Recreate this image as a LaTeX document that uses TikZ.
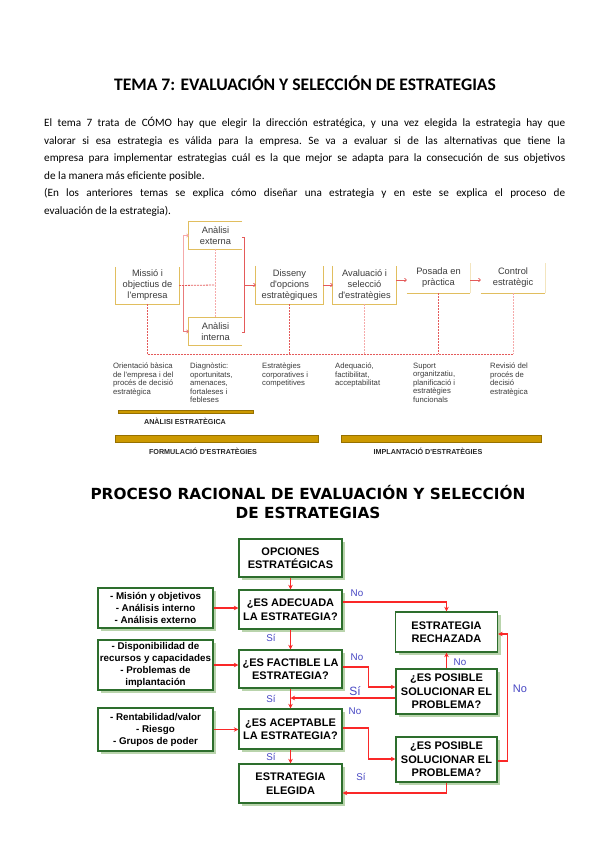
\documentclass[tikz,border=0pt]{standalone}
\usepackage{fontspec}
\setmainfont{Carlito}
\newfontfamily\arialf{Liberation Sans}
\newfontfamily\verdf{DejaVu Sans}
\usetikzlibrary{arrows.meta,shadows}
\definecolor{gbord}{RGB}{225,190,95}
\definecolor{barfill}{RGB}{204,153,0}
\definecolor{barline}{RGB}{150,112,0}
\definecolor{lred}{RGB}{228,90,90}
\definecolor{pred}{RGB}{245,170,170}
\definecolor{fred}{RGB}{250,40,40}
\definecolor{fgreen}{RGB}{45,110,45}
\definecolor{fshadow}{RGB}{185,212,172}
\definecolor{lblue}{RGB}{70,70,195}
\definecolor{tgray}{RGB}{60,60,60}
\tikzset{
  tbox/.style={font=\arialf\fontsize{9.3}{11}\selectfont, text=tgray, align=center, inner sep=0pt},
  gline/.style={draw=gbord, line width=1pt},
  lowtxt/.style={anchor=north west, font=\arialf\fontsize{7.7}{8.4}\selectfont, text=tgray, align=left, inner sep=0pt},
  blab/.style={font=\arialf\bfseries\fontsize{7.2}{8}\selectfont, text=black!85, inner sep=0pt},
  dsh/.style={draw=lred, dashed, dash pattern=on 2pt off 1pt, line width=0.8pt},
  dshl/.style={draw=pred, dashed, dash pattern=on 2pt off 1pt, line width=0.8pt},
  tarr/.style={draw=lred, line width=0.8pt, -{To[length=2.5pt,width=4pt]}},
  fbox/.style={draw=fgreen, line width=1.3pt, fill=white, drop shadow={shadow xshift=3pt, shadow yshift=-3pt, fill=fshadow, opacity=1}, font=\arialf\bfseries\fontsize{11}{13.5}\selectfont, align=center, inner sep=0pt},
  lbox/.style={fbox, font=\arialf\bfseries\fontsize{9.8}{12}\selectfont},
  farr/.style={draw=fred, line width=1.2pt, -{Stealth[length=4.5pt,width=4.5pt]}},
  flab/.style={font=\arialf\fontsize{9.8}{11}\selectfont, text=lblue, inner sep=0pt}
}
\begin{document}
\begin{tikzpicture}[x=1pt,y=-1pt]
\useasboundingbox[fill=white] (0,0) rectangle (600,848);

% ---------- Title and paragraph ----------
\node[font=\bfseries\fontsize{17.6}{20}\selectfont] (t1) at (305,83) {TEMA 7: EVALUACIÓN Y SELECCIÓN DE ESTRATEGIAS};
\node[anchor=north west, inner sep=0pt, text width=521pt, align=justify, font=\frenchspacing\fontsize{11.2}{17.6}\selectfont] (par) at (44,117)
{El tema 7 trata de CÓMO hay que elegir la dirección estratégica, y una vez elegida la estrategia hay que\linebreak
valorar si esa estrategia es válida para la empresa. Se va a evaluar si de las alternativas que tiene la\linebreak
empresa para implementar estrategias cuál es la que mejor se adapta para la consecución de sus objetivos\linebreak
de la manera más eficiente posible.\par
(En los anteriores temas se explica cómo diseñar una estrategia y en este se explica el proceso de\linebreak
evaluación de la estrategia).};

% ---------- Top diagram ----------
\node[tbox, minimum width=63pt, minimum height=37pt] (mis) at (147.5,285.5) {Missió i\\objectius de\\l'empresa};
\node[tbox, minimum width=53pt, minimum height=27pt] (ext) at (215.5,235.5) {Anàlisi\\externa};
\node[tbox, minimum width=53pt, minimum height=27pt] (int) at (215.5,331.5) {Anàlisi\\interna};
\node[tbox, minimum width=67pt, minimum height=38pt] (dis) at (289.5,285) {Disseny\\d'opcions\\estratègiques};
\node[tbox, minimum width=63pt, minimum height=38pt] (ava) at (364.5,285) {Avaluació i\\selecció\\d'estratègies};
\node[tbox, minimum width=63pt, minimum height=30pt] (pos) at (438.5,278) {Posada en\\pràctica};
\node[tbox, minimum width=64pt, minimum height=30pt] (con) at (513,278) {Control\\estratègic};

\draw[gline] (mis.north west) -- (mis.south west) -- (mis.south east) -- (mis.north east);
\draw[gline] (dis.north west) -- (dis.south west) -- (dis.south east) -- (dis.north east);
\draw[gline] (ava.north west) -- (ava.south west) -- (ava.south east) -- (ava.north east);
\draw[gline] (ext.north east) -- (ext.north west) -- (ext.south west) -- (ext.south east);
\draw[gline] (int.north east) -- (int.north west) -- (int.south west) -- (int.south east);
\draw[gline] (pos.south west) -- (pos.south east);
\draw[draw=gbord!40, line width=0.8pt] (pos.south east) -- (pos.north east);
\draw[gline] (con.south west) -- (con.south east);
\draw[draw=gbord!40, line width=0.8pt] (con.south east) -- (con.north east);

% left split lines
\coordinate (lsplit) at (183,285);
\draw[draw=pred, line width=0.8pt, -{To[length=2.5pt,width=4pt]}] (lsplit) |- (ext.west);
\draw[draw=lred!80, line width=0.8pt, -{To[length=2.5pt,width=4pt]}] (lsplit) |- (int.west);
% dashed from mission
\coordinate (mj) at (215.5,285);
\draw[dsh] (mis.east) -- (mj);
\draw[dshl] (ext.south) -- (int.north);
% right join line
\coordinate (rtop) at (244,237);
\coordinate (rbot) at (244,332);
\draw[draw=lred, line width=1pt] (ext.east |- rtop) -- (rtop) -- (rbot) -- (int.east |- rbot);
\draw[tarr] (rtop |- dis.west) -- (dis.west);
\draw[tarr] (dis.east) -- (ava.west |- dis.east);
\draw[tarr] (ava.east |- 0,280) -- (pos.west |- 0,280);
\draw[tarr] (pos.east |- 0,280) -- (con.west |- 0,280);

% bottom dashed connectors
\coordinate (db1) at (mis.south |- 0,354);
\coordinate (db2) at (dis.south |- 0,354);
\coordinate (db3) at (ava.south |- 0,354);
\coordinate (db4) at (pos.south |- 0,354);
\coordinate (db5) at (con.south |- 0,354);
\draw[dsh] (mis.south) -- (db1);
\draw[dsh] (dis.south) -- (db2);
\draw[dshl] (ava.south) -- (db3);
\draw[dsh] (pos.south) -- (db4);
\draw[dshl] (con.south) -- (db5);
\draw[dsh] (db1) -- (db5);

% texts below
\node[lowtxt] (c1) at (113,363) {Orientació bàsica\\de l'empresa i del\\procés de decisió\\estratègica};
\node[lowtxt] (c2) at (190,363) {Diagnòstic:\\oportunitats,\\amenaces,\\fortaleses i\\febleses};
\node[lowtxt] (c3) at (262,363) {Estratègies\\corporatives i\\competitives};
\node[lowtxt] (c4) at (335,363) {Adequació,\\factibilitat,\\acceptabilitat};
\node[lowtxt] (c5) at (413,363) {Suport\\organitzatiu,\\planificació i\\estratègies\\funcionals};
\node[lowtxt] (c6) at (490,363) {Revisió del\\procés de\\decisió\\estratègica};

% bars
\draw[fill=barfill, draw=barline, line width=0.5pt] (118,410) rectangle (253,413.5);
\node[blab] (lab1) at (185,421) {ANÀLISI ESTRATÈGICA};
\draw[fill=barfill, draw=barline, line width=0.5pt] (115,435) rectangle (318,442);
\node[blab] (lab2) at (203,451) {FORMULACIÓ D'ESTRATÈGIES};
\draw[fill=barfill, draw=barline, line width=0.5pt] (341,435) rectangle (541,442);
\node[blab] (lab3) at (428,451) {IMPLANTACIÓ D'ESTRATÈGIES};

% ---------- Second title ----------
\node[font=\verdf\bfseries\fontsize{15.3}{19}\selectfont, align=center] (t2) at (308,502) {PROCESO RACIONAL DE EVALUACIÓN Y SELECCIÓN\\DE ESTRATEGIAS};

% ---------- Flowchart ----------
\node[fbox, minimum width=103pt, minimum height=38pt] (opc) at (290.5,558) {OPCIONES\\ESTRATÉGICAS};
\node[fbox, minimum width=103pt, minimum height=39pt] (ade) at (290.5,609.5) {¿ES ADECUADA\\LA ESTRATEGIA?};
\node[fbox, minimum width=103pt, minimum height=38pt] (fac) at (290.5,669) {¿ES FACTIBLE LA\\ESTRATEGIA?};
\node[fbox, minimum width=103pt, minimum height=40pt] (ace) at (290.5,729) {¿ES ACEPTABLE\\LA ESTRATEGIA?};
\node[fbox, minimum width=103pt, minimum height=39pt] (ele) at (290.5,783.5) {ESTRATEGIA\\ELEGIDA};
\node[lbox, minimum width=115pt, minimum height=40pt] (l1) at (155.5,608) {- Misión y objetivos\\- Análisis interno\\- Análisis externo};
\node[lbox, minimum width=115pt, minimum height=50pt] (l2) at (155.5,665) {- Disponibilidad de\\recursos y capacidades\\- Problemas de\\implantación};
\node[lbox, minimum width=115pt, minimum height=43pt] (l3) at (155.5,729.5) {- Rentabilidad/valor\\- Riesgo\\- Grupos de poder};
\node[fbox, minimum width=102pt, minimum height=40pt] (rech) at (446.5,632) {ESTRATEGIA\\RECHAZADA};
\node[fbox, minimum width=101pt, minimum height=45pt] (sol1) at (446.5,691.5) {¿ES POSIBLE\\SOLUCIONAR EL\\PROBLEMA?};
\node[fbox, minimum width=101pt, minimum height=45pt] (sol2) at (446.5,759.5) {¿ES POSIBLE\\SOLUCIONAR EL\\PROBLEMA?};

\draw[farr] (opc.south) -- (ade.north);
\draw[farr] (l1.east) -- (ade.west |- l1.east);
\draw[farr] (ade.south) -- (fac.north);
\draw[farr] (l2.east) -- (fac.west |- l2.east);
\draw[farr] (fac.south) -- (ace.north);
\draw[farr] (l3.east) -- (ace.west |- l3.east);
\draw[farr] (ace.south) -- (ele.north);

\draw[farr] ([yshift=7.5pt]ade.east) -| (rech.north);
\draw[farr] ([yshift=2pt]fac.east) -- ++(26,0) |- ([yshift=4.5pt]sol1.west);
\coordinate (s1o) at ([yshift=-6.5pt]sol1.west);
\draw[farr] (s1o) -- (fac.south |- s1o);
\draw[farr] (sol1.north) -- (rech.south);
\draw[farr] ([yshift=1pt]ace.east) -- ++(26,0) |- ([yshift=0.5pt]sol2.west);
\draw[farr] ([yshift=-1.5pt]sol2.east) -- ++(10,0) |- ([yshift=-2pt]rech.east);
\draw[farr] (sol2.south) |- ([yshift=-9.5pt]ele.east);

\node[flab] (n1) at (357,593) {No};
\node[flab] (s1) at (271,638) {Sí};
\node[flab] (n2) at (357,657) {No};
\node[flab, font=\arialf\fontsize{12}{13}\selectfont] (s2) at (355,691) {Sí};
\node[flab] (s3) at (271,699) {Sí};
\node[flab] (n3) at (460,662) {No};
\node[flab] (n4) at (355,711) {No};
\node[flab, font=\arialf\fontsize{11}{12}\selectfont] (n5) at (520,689) {No};
\node[flab] (s4) at (271,757) {Sí};
\node[flab] (s5) at (361,777) {Sí};
\end{tikzpicture}
\end{document}
